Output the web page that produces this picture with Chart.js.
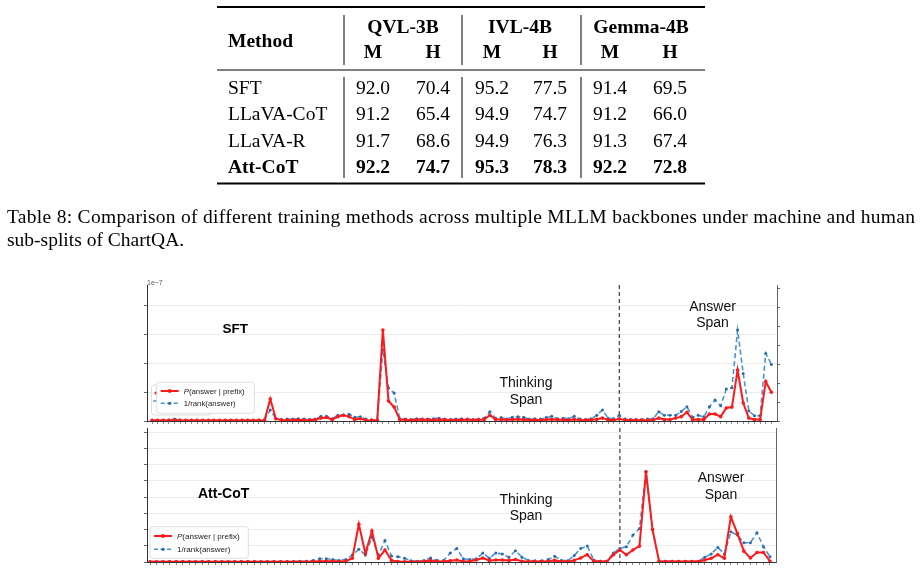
<!DOCTYPE html>
<html>
<head>
<meta charset="utf-8">
<script src="https://cdn.jsdelivr.net/npm/chart.js@4.4.1/dist/chart.umd.min.js"></script>
<style>
  html, body { margin: 0; padding: 0; background: #fff; }
  #page { position: relative; width: 920px; height: 572px; overflow: hidden; }
  canvas, svg { position: absolute; left: 0; top: 0; }
</style>
</head>
<body>
<div id="page">
  <canvas id="sftChart" width="920" height="572"></canvas>
  <canvas id="attChart" width="920" height="572"></canvas>
  <svg id="overlay" width="920" height="572" xmlns="http://www.w3.org/2000/svg"></svg>
</div>
<script>
// ---- table data ----
var methods = ['SFT', 'LLaVA-CoT', 'LLaVA-R', 'Att-CoT'];
var backbones = ['QVL-3B', 'IVL-4B', 'Gemma-4B'];
var splits = ['M', 'H'];
var scores = [
  [92.0, 70.4, 95.2, 77.5, 91.4, 69.5],
  [91.2, 65.4, 94.9, 74.7, 91.2, 66.0],
  [91.7, 68.6, 94.9, 76.3, 91.3, 67.4],
  [92.2, 74.7, 95.3, 78.3, 92.2, 72.8]
];
var captionLines = [
  'Table 8: Comparison of different training methods across multiple MLLM backbones under machine and human',
  'sub-splits of ChartQA.'
];

// ---- chart data (token position index) ----
// SFT panel: P(answer | prefix) on left axis, 1/rank(answer) on right axis
var sftProb = [
  0.02, 0.02, 0.02, 0.02, 0.03, 0.02, 0.02, 0.02, 0.02, 0.02, 0.02, 0.02, 0.02, 0.02, 0.02, 0.02, 0.02, 0.02, 0.02, 0.02, 0.03,
  0.76,
  0.08, 0.03, 0.03, 0.03, 0.04, 0.03, 0.03, 0.04,
  0.1, 0.12, 0.05, 0.15, 0.2, 0.15, 0.05, 0.08, 0.03, 0.02, 0.02,
  3.14, 0.69, 0.48, 0.05,
  0.04, 0.03, 0.04, 0.05, 0.04, 0.03, 0.05, 0.04, 0.03, 0.03, 0.04, 0.05, 0.03, 0.04, 0.05,
  0.2, 0.06, 0.05,
  0.04, 0.05, 0.06, 0.05, 0.03, 0.04, 0.03, 0.05, 0.06, 0.04, 0.04, 0.03, 0.06, 0.03, 0.03, 0.04, 0.06,
  0.1, 0.04, 0.03, 0.08, 0.03, 0.03, 0.03, 0.03, 0.03, 0.03,
  0.1, 0.05, 0.05, 0.1, 0.15, 0.3, 0.05, 0.05, 0.05, 0.24, 0.24, 0.15, 0.45, 0.48, 1.76, 0.62, 0.1, 0.05, 0.05, 1.36, 0.99
];
var sftRank = [
  0.04, 0.04, 0.04, 0.05, 0.1, 0.05, 0.04, 0.04, 0.04, 0.04, 0.04, 0.04, 0.04, 0.04, 0.04, 0.04, 0.04, 0.04, 0.04, 0.05, 0.08,
  0.58,
  0.12, 0.08, 0.1, 0.1, 0.12, 0.1, 0.08, 0.1,
  0.25, 0.25, 0.12, 0.3, 0.32, 0.35, 0.2, 0.22, 0.1, 0.06, 0.06,
  3.74, 1.74, 1.47, 0.12,
  0.1, 0.08, 0.12, 0.1, 0.1, 0.12, 0.15, 0.1, 0.08, 0.1, 0.12, 0.1, 0.08, 0.1, 0.15,
  0.49, 0.15, 0.18,
  0.1, 0.2, 0.22, 0.2, 0.1, 0.12, 0.1, 0.18, 0.25, 0.12, 0.15, 0.12, 0.25, 0.1, 0.08, 0.12, 0.3,
  0.58, 0.15, 0.12, 0.3, 0.1, 0.08, 0.08, 0.08, 0.1, 0.12,
  0.49, 0.3, 0.3, 0.3, 0.5, 0.75, 0.2, 0.3, 0.22, 0.75, 1.1, 0.8, 1.68, 1.75, 4.79, 2.5, 0.53, 0.28, 0.28, 3.56, 2.98
];
var sftSplit = 83;   // thinking / answer boundary

// Att-CoT panel
var attProb = [
  0.02, 0.02, 0.02, 0.02, 0.02, 0.02, 0.02, 0.02, 0.02, 0.02, 0.02, 0.02, 0.02, 0.02, 0.02, 0.02, 0.02, 0.02, 0.02, 0.02, 0.02, 0.02, 0.02, 0.02, 0.02,
  0.03, 0.05, 0.05, 0.04, 0.03, 0.05,
  0.23, 2.33, 0.53, 1.91, 0.23, 0.74, 0.1, 0.03, 0.02,
  0.02, 0.02, 0.03, 0.1, 0.03, 0.03,
  0.08, 0.12, 0.03, 0.05, 0.12,
  0.25, 0.1, 0.12, 0.12, 0.1, 0.15, 0.05,
  0.03, 0.03, 0.03, 0.05, 0.1, 0.03, 0.03, 0.1,
  0.25, 0.45, 0.05, 0.03, 0.03,
  0.45, 0.74, 0.45, 0.74, 0.98, 5.57, 2.0, 0.05,
  0.03, 0.03, 0.03, 0.03, 0.03, 0.03,
  0.12, 0.23, 0.45, 0.23, 2.79, 1.77, 0.67, 0.25, 0.59, 0.59, 0.05
];
var attRank = [
  0.03, 0.03, 0.03, 0.03, 0.03, 0.03, 0.03, 0.03, 0.03, 0.03, 0.03, 0.03, 0.03, 0.03, 0.03, 0.03, 0.03, 0.03, 0.03, 0.03, 0.03, 0.03, 0.03, 0.04, 0.05,
  0.1, 0.2, 0.2, 0.15, 0.1, 0.15,
  0.43, 0.78, 0.43, 1.52, 0.43, 1.32, 0.37, 0.33, 0.23,
  0.08, 0.05, 0.1, 0.25, 0.1, 0.1,
  0.55, 0.84, 0.2, 0.15, 0.2,
  0.55, 0.23, 0.55, 0.5, 0.3, 0.7, 0.3,
  0.1, 0.08, 0.08, 0.15, 0.35, 0.1, 0.08, 0.4,
  0.84, 0.98, 0.12, 0.05, 0.05,
  0.55, 0.84, 0.94, 1.66, 2.06, 5.57, 2.0, 0.05,
  0.05, 0.05, 0.05, 0.05, 0.05, 0.05,
  0.3, 0.5, 0.9, 0.5, 1.86, 1.66, 1.19, 1.19, 1.81, 0.94, 0.33
];
var attSplit = 72;

var RED = '#ff1a1a';
var BLUE = '#4a93d1';
var BLUE_DOT = '#2e6aa8';

// dashed boundary between thinking span and answer span
var splitLine = {
  id: 'splitLine',
  beforeDatasetsDraw: function (chart, args, opts) {
    var ctx = chart.ctx, area = chart.chartArea;
    var x = chart.scales.x.getPixelForValue(opts.index);
    ctx.save();
    ctx.strokeStyle = '#4d4d4d';
    ctx.lineWidth = 1.3;
    ctx.setLineDash([4, 3]);
    ctx.beginPath();
    ctx.moveTo(x, area.top);
    ctx.lineTo(x, area.bottom);
    ctx.stroke();
    ctx.restore();
  }
};

function makeChart(id, prob, rank, cfg) {
  var toPts = function (arr) { return arr.map(function (v, i) { return { x: i, y: v }; }); };
  var idx = prob.map(function (v, i) { return { value: i }; });
  return new Chart(document.getElementById(id), {
    type: 'line',
    data: {
      datasets: [{
        label: 'P(answer | prefix)',
        data: toPts(prob),
        yAxisID: 'y',
        borderColor: RED,
        backgroundColor: RED,
        borderWidth: 2,
        pointRadius: 1.8,
        pointBorderWidth: 0,
        pointBackgroundColor: RED,
        tension: 0
      }, {
        label: '1/rank(answer)',
        data: toPts(rank),
        yAxisID: 'y1',
        borderColor: BLUE,
        backgroundColor: BLUE,
        borderWidth: 1.6,
        borderDash: [5, 3],
        pointRadius: 1.5,
        pointBorderWidth: 0,
        pointBackgroundColor: BLUE_DOT,
        tension: 0
      }]
    },
    options: {
      responsive: false,
      animation: false,
      devicePixelRatio: 1,
      layout: { padding: cfg.padding },
      plugins: {
        legend: { display: false },
        tooltip: { enabled: false },
        splitLine: { index: cfg.split }
      },
      scales: {
        x: {
          type: 'linear',
          min: cfg.xMin,
          max: cfg.xMax,
          afterBuildTicks: function (s) { s.ticks = idx; },
          afterFit: function (s) { s.height = 4; },
          ticks: { display: false },
          grid: { drawOnChartArea: false, drawTicks: true, tickLength: 3, tickColor: '#8a8a8a' },
          border: { display: true, color: '#333', width: 1 }
        },
        y: {
          position: 'left',
          min: 0,
          max: cfg.yMax,
          afterBuildTicks: function (s) {
            var t = [];
            for (var k = 0; k <= Math.floor(cfg.yMax); k++) t.push({ value: k });
            s.ticks = t;
          },
          afterFit: function (s) { s.width = 4; },
          ticks: { display: false },
          grid: { color: '#ebebeb', lineWidth: 1, drawTicks: true, tickLength: 3, tickColor: '#666' },
          border: { display: true, color: '#333', width: 1 }
        },
        y1: {
          position: 'right',
          min: 0,
          max: cfg.y1Max,
          afterBuildTicks: function (s) {
            var t = [];
            for (var k = 0; k <= Math.floor(cfg.y1Max); k++) t.push({ value: k });
            s.ticks = t;
          },
          afterFit: function (s) { s.width = 4; },
          ticks: { display: false },
          grid: { drawOnChartArea: false, drawTicks: cfg.rightTicks, tickLength: 3, tickColor: '#666' },
          border: { display: true, color: '#666', width: 1 }
        }
      }
    },
    plugins: [splitLine]
  });
}

// SFT panel: chart area 147..777 x 285..421
makeChart('sftChart', sftProb, sftRank, {
  padding: { left: 143, right: 139, top: 285, bottom: 147 },
  xMin: -0.89, xMax: 111.0,
  yMax: 4.69, y1Max: 7.16,
  split: sftSplit, rightTicks: true
});
// Att-CoT panel: chart area 147..776 x 428..562
makeChart('attChart', attProb, attRank, {
  padding: { left: 143, right: 140, top: 428, bottom: 6 },
  xMin: -0.46, xMax: 95.92,
  yMax: 8.27, y1Max: 8.27,
  split: attSplit, rightTicks: false
});

// ---- table, caption and in-plot labels ----
var svg = document.getElementById('overlay');
var NS = 'http://www.w3.org/2000/svg';
function el(tag, attrs, text) {
  var e = document.createElementNS(NS, tag);
  for (var k in attrs) e.setAttribute(k, attrs[k]);
  if (text !== undefined) e.textContent = text;
  svg.appendChild(e);
  return e;
}
function line(x1, y1, x2, y2, w, c, dash) {
  var a = { x1: x1, y1: y1, x2: x2, y2: y2, stroke: c || '#000', 'stroke-width': w };
  if (dash) a['stroke-dasharray'] = dash;
  return el('line', a);
}
var SERIF = "'Liberation Serif', 'Times New Roman', serif";
var SANS = "'Liberation Sans', Arial, sans-serif";

// rules
line(217, 7, 705, 7, 1.8);
line(217, 70, 705, 70, 1);
line(217, 183.5, 705, 183.5, 1.8);
[344, 462, 581].forEach(function (x) {
  line(x, 15, x, 65, 1);
  line(x, 77, x, 178, 1);
});

var colX = [373, 433, 492, 550, 610, 670];
var groupX = [403, 520, 641];
el('text', { x: 228, y: 46.5, 'font-family': SERIF, 'font-size': 19.5, 'font-weight': 'bold' }, 'Method');
backbones.forEach(function (b, i) {
  el('text', { x: groupX[i], y: 33, 'text-anchor': 'middle', 'font-family': SERIF, 'font-size': 19.5, 'font-weight': 'bold' }, b);
  splits.forEach(function (s, j) {
    el('text', { x: colX[i * 2 + j], y: 58, 'text-anchor': 'middle', 'font-family': SERIF, 'font-size': 19.5, 'font-weight': 'bold' }, s);
  });
});
methods.forEach(function (m, r) {
  var y = 94 + r * 26.3;
  var bold = r === methods.length - 1 ? 'bold' : 'normal';
  el('text', { x: 228, y: y, 'font-family': SERIF, 'font-size': 19.5, 'font-weight': bold }, m);
  scores[r].forEach(function (v, c) {
    el('text', { x: colX[c], y: y, 'text-anchor': 'middle', 'font-family': SERIF, 'font-size': 19.5, 'font-weight': bold }, v.toFixed(1));
  });
});

// caption
el('text', { x: 7, y: 223, 'font-family': SERIF, 'font-size': 19.5, textLength: 908, lengthAdjust: 'spacing' }, captionLines[0]);
el('text', { x: 7, y: 246, 'font-family': SERIF, 'font-size': 19.5 }, captionLines[1]);

// in-plot annotations
el('text', { x: 147, y: 285, 'font-family': SANS, 'font-size': 7, fill: '#555' }, '1e\u22127');
el('text', { x: 222.5, y: 333, 'font-family': SANS, 'font-size': 13.5, 'font-weight': 'bold' }, 'SFT');
el('text', { x: 198, y: 498, 'font-family': SANS, 'font-size': 14, 'font-weight': 'bold' }, 'Att-CoT');
[[526, 387, 'Thinking'], [526, 404, 'Span'], [712.5, 310.5, 'Answer'], [712.5, 327, 'Span'],
 [526, 503.5, 'Thinking'], [526, 520, 'Span'], [721, 482, 'Answer'], [721, 498.5, 'Span']].forEach(function (t) {
  el('text', { x: t[0], y: t[1], 'text-anchor': 'middle', 'font-family': SANS, 'font-size': 14, fill: '#111' }, t[2]);
});

// legends
function legend(x, y, w, h, rowY, fs) {
  el('rect', { x: x, y: y, width: w, height: h, rx: 2.5, fill: '#fff', 'fill-opacity': 0.9, stroke: '#d6d6d6', 'stroke-width': 0.8 });
  var lx1 = x + 4, lx2 = x + 22, mx = (lx1 + lx2) / 2, tx = x + 27;
  line(lx1, rowY[0], lx2, rowY[0], 2, RED);
  el('circle', { cx: mx, cy: rowY[0], r: 1.9, fill: RED });
  var t1 = el('text', { x: tx, y: rowY[0] + 2.8, 'font-family': SANS, 'font-size': fs, fill: '#222' });
  var ti = document.createElementNS(NS, 'tspan');
  ti.setAttribute('font-style', 'italic');
  ti.textContent = 'P';
  t1.appendChild(ti);
  t1.appendChild(document.createTextNode('(answer | prefix)'));
  line(lx1, rowY[1], lx2, rowY[1], 1.6, BLUE, '4 2.5');
  el('circle', { cx: mx, cy: rowY[1], r: 1.6, fill: BLUE_DOT });
  el('text', { x: tx, y: rowY[1] + 2.8, 'font-family': SANS, 'font-size': fs, fill: '#222' }, '1/rank(answer)');
}
// faint duplicate legend peeking out behind the SFT one
el('rect', { x: 151.5, y: 385, width: 60, height: 30, rx: 2.5, fill: '#fff', stroke: '#d6d6d6', 'stroke-width': 0.8 });
el('circle', { cx: 156, cy: 393, r: 1.5, fill: RED });
line(153, 401, 157, 401, 1.4, BLUE);
legend(156.7, 382.3, 97.6, 31, [391, 403.3], 7.8);
legend(150, 526.7, 98.3, 31.6, [536, 549.3], 8);
</script>
</body>
</html>
